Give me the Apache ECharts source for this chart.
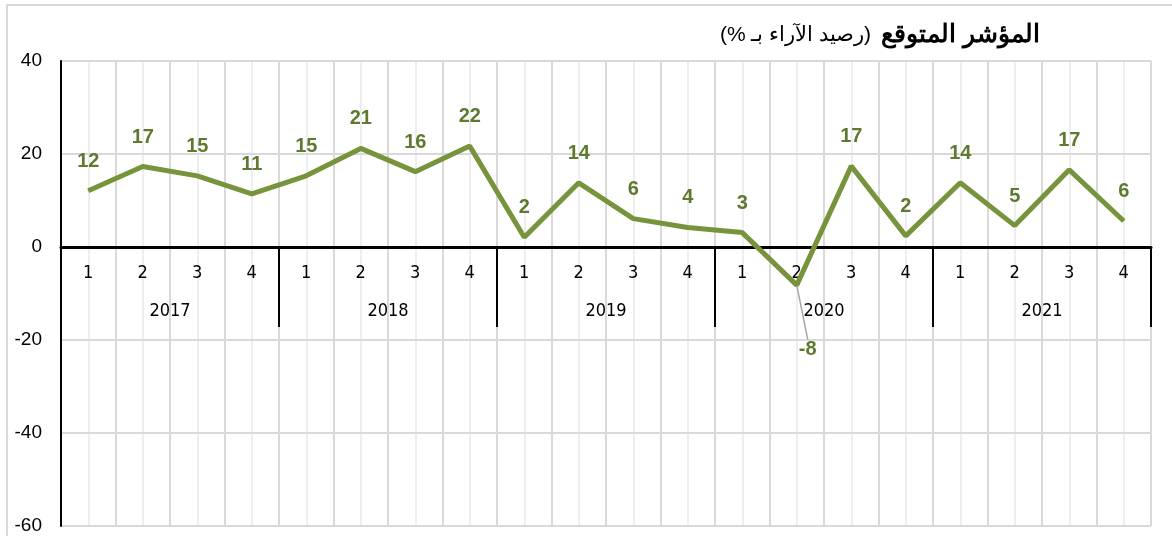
<!DOCTYPE html>
<html dir="ltr">
<head>
<meta charset="utf-8">
<script src="https://cdn.jsdelivr.net/npm/echarts@6/dist/echarts.min.js"></script>
<style>html,body{margin:0;padding:0;background:#fff}#c{width:1172px;height:536px}</style>
</head>
<body>
<div id="c"></div>
<script>
const years = ['2017', '2018', '2019', '2020', '2021'];
const quarters = ['1', '2', '3', '4'];
const values = [
  12.1, 17.3, 15.3, 11.4,
  15.3, 21.2, 16.2, 21.7,
  2.1, 13.8, 6.1, 4.2,
  3.1, -8.2, 17.4, 2.4,
  13.8, 4.6, 16.6, 5.6
];
const yTicks = { min: -60, max: 40, interval: 20 };
const titleMain = 'المؤشر المتوقع';
const titleSub = '(رصيد الآراء بـ %)';

const cats = [];
years.forEach(y => quarters.forEach(q => cats.push(y + '-' + q)));
const moved = values.findIndex(v => v < 0);
const seriesData = values.map((v, i) => i === moved
  ? { value: v, labelLine: { show: true, lineStyle: { color: '#a6a6a6', width: 1.5 } } }
  : v);

const LEFT = 61, RIGHT = 21, TOP = 61, BOTTOM = 10;
const plotH = 536 - TOP - BOTTOM;
const zeroY = TOP + plotH * (yTicks.max / (yTicks.max - yTicks.min));
const narrow = "'Liberation Sans Narrow','DejaVu Sans Condensed','Roboto',sans-serif";
const sans = "'Liberation Sans',Arial,sans-serif";

const gridBase = { left: LEFT, right: RIGHT, top: TOP, containLabel: false, outerBoundsMode: 'none' };

const chart = echarts.init(document.getElementById('c'), null, { renderer: 'canvas' });
chart.setOption({
  animation: false,
  backgroundColor: '#fff',
  title: {
    text: '{a|\u200F' + titleSub + '\u200F}{g| }{b|' + titleMain + '}',
    right: 127, top: 18,
    textStyle: {
      fontWeight: 'normal',
      rich: {
        a: { fontFamily: sans, fontSize: 21, fontWeight: 'normal', color: '#000' },
        g: { fontSize: 17, width: 10 },
        b: { fontFamily: sans, fontSize: 25, fontWeight: 'bold', color: '#000' }
      }
    }
  },
  graphic: [{
    type: 'rect', silent: true, z: -1,
    shape: { x: 7, y: 5, width: 1300, height: 700 },
    style: { fill: null, stroke: '#d9d9d9', lineWidth: 2 }
  }],
  grid: [
    Object.assign({}, gridBase, { bottom: BOTTOM }),
    Object.assign({}, gridBase, { height: zeroY - TOP }),
    Object.assign({}, gridBase, { height: zeroY - TOP })
  ],
  xAxis: [
    {
      type: 'category', gridIndex: 0, data: cats, boundaryGap: true, position: 'bottom',
      axisLine: { show: false }, axisTick: { show: false }, axisLabel: { show: false },
      splitLine: { show: true, lineStyle: { color: '#d9d9d9', width: 2 } }
    },
    {
      type: 'category', gridIndex: 0, data: cats, boundaryGap: true, position: 'top',
      axisLine: { show: false }, axisTick: { show: false }, axisLabel: { show: false },
      splitLine: { show: true, alignWithLabel: true, lineStyle: { color: '#eeeeee', width: 2 } }
    },
    {
      type: 'category', gridIndex: 1, data: cats, boundaryGap: true, position: 'bottom',
      axisLine: { show: true, onZero: false, lineStyle: { color: '#000', width: 3 } },
      axisTick: { show: false },
      axisLabel: {
        interval: 0, margin: 17, fontFamily: narrow, fontSize: 18, color: '#000',
        formatter: v => v.split('-')[1]
      },
      splitLine: { show: false },
      z: 5
    },
    {
      type: 'category', gridIndex: 2, data: years, boundaryGap: true, position: 'bottom',
      axisLine: { show: false, onZero: false },
      axisTick: { show: true, length: 80, interval: 0, lineStyle: { color: '#000', width: 2 } },
      axisLabel: { interval: 0, margin: 55, fontFamily: narrow, fontSize: 18, color: '#000' },
      splitLine: { show: false },
      z: 6
    }
  ],
  yAxis: [
    {
      type: 'value', gridIndex: 0, min: yTicks.min, max: yTicks.max, interval: yTicks.interval,
      axisLine: { show: true, onZero: false, lineStyle: { color: '#000', width: 2 } },
      axisTick: { show: false },
      axisLabel: { margin: 19, fontFamily: sans, fontSize: 19, color: '#000' },
      splitLine: { show: true, lineStyle: { color: '#d9d9d9', width: 2 } },
      z: 5
    },
    { type: 'value', gridIndex: 1, min: 0, max: 1, show: false, splitLine: { show: false } },
    { type: 'value', gridIndex: 2, min: 0, max: 1, show: false, splitLine: { show: false } }
  ],
  series: [{
    type: 'line', xAxisIndex: 0, yAxisIndex: 0, data: seriesData,
    symbol: 'circle', symbolSize: 1, showSymbol: true,
    lineStyle: { color: '#77933c', width: 5 },
    itemStyle: { color: '#77933c' },
    z: 10,
    label: {
      show: true, position: 'top', distance: 19,
      fontFamily: sans, fontSize: 20, fontWeight: 'bold', color: '#5f7a30',
      formatter: p => String(Math.round(p.value))
    },
    labelLine: { show: false },
    labelLayout: p => p.dataIndex === moved ? { dx: 11, dy: 94 } : undefined
  }]
});
</script>
</body>
</html>
